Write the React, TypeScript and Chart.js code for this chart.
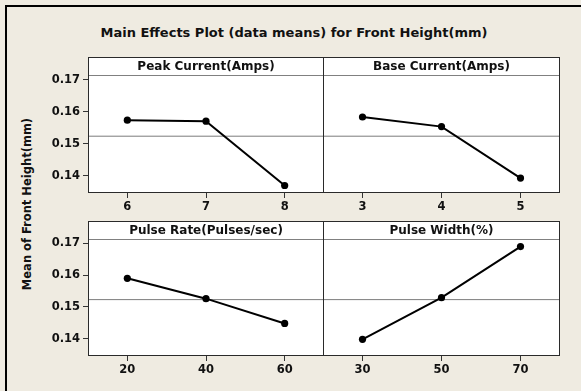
import React, { useEffect, useRef } from 'react';
import { Chart, registerables } from 'chart.js';

Chart.register(...registerables);

// ---- Data ----
const TITLE = 'Main Effects Plot (data means) for Front Height(mm)';
const Y_LABEL = 'Mean of Front Height(mm)';
const FACTORS = ['Peak Current(Amps)', 'Base Current(Amps)', 'Pulse Rate(Pulses/sec)', 'Pulse Width(%)'];

const PEAK_LEVELS = [6, 7, 8];
const PEAK_MEANS = [0.1573, 0.157, 0.1369];
const BASE_LEVELS = [3, 4, 5];
const BASE_MEANS = [0.1583, 0.1553, 0.1392];
const RATE_LEVELS = [20, 40, 60];
const RATE_MEANS = [0.159, 0.1526, 0.1448];
const WIDTH_LEVELS = [30, 50, 70];
const WIDTH_MEANS = [0.1398, 0.1529, 0.169];

const GRAND_MEAN = 0.1523;
const Y_TICKS = [0.14, 0.15, 0.16, 0.17];
const Y_MIN = 0.13455;
const Y_MAX = 0.17705;

// ---- Layout / style ----
const FONT = '"DejaVu Sans", Verdana, sans-serif';
const Y_AXIS_W = 48;
const X_AXIS_H = 26;

type PanelCfg = {
  title: string;
  levels: number[];
  means: number[];
  xMin: number;
  xMax: number;
  left: number;
  top: number;
  width: number;
  height: number;
  showY: boolean;
};

const PANELS: PanelCfg[] = [
  { title: FACTORS[0], levels: PEAK_LEVELS, means: PEAK_MEANS, xMin: 5.5, xMax: 8.5, left: 40, top: 57, width: 284, height: 136 + X_AXIS_H, showY: true },
  { title: FACTORS[1], levels: BASE_LEVELS, means: BASE_MEANS, xMin: 2.5, xMax: 5.5, left: 323, top: 57, width: 237, height: 136 + X_AXIS_H, showY: false },
  { title: FACTORS[2], levels: RATE_LEVELS, means: RATE_MEANS, xMin: 10, xMax: 70, left: 40, top: 221, width: 284, height: 135 + X_AXIS_H, showY: true },
  { title: FACTORS[3], levels: WIDTH_LEVELS, means: WIDTH_MEANS, xMin: 20, xMax: 80, left: 323, top: 221, width: 237, height: 135 + X_AXIS_H, showY: false },
];

function headerPlugin(title: string) {
  return {
    id: 'panelHeader',
    beforeDraw(chart: any) {
      const { ctx, chartArea } = chart;
      const { left, right, top, bottom } = chartArea;
      ctx.save();
      ctx.fillStyle = '#ffffff';
      ctx.fillRect(left, top, right - left, bottom - top);
      ctx.restore();
    },
    afterDraw(chart: any) {
      const { ctx, chartArea } = chart;
      const { left, right, top, bottom } = chartArea;
      ctx.save();
      // header separator
      ctx.strokeStyle = '#808080';
      ctx.lineWidth = 1;
      ctx.beginPath();
      ctx.moveTo(left, top + 18.5);
      ctx.lineTo(right, top + 18.5);
      ctx.stroke();
      // header text
      ctx.fillStyle = '#111';
      ctx.font = `bold 12px ${FONT}`;
      ctx.textAlign = 'center';
      ctx.textBaseline = 'middle';
      ctx.fillText(title, (left + right) / 2, top + 10);
      // panel frame
      ctx.strokeStyle = '#2a2a2a';
      ctx.strokeRect(left + 0.5, top + 0.5, right - left - 1, bottom - top - 1);
      ctx.restore();
    },
  };
}

function Panel({ cfg }: { cfg: PanelCfg }) {
  const ref = useRef<HTMLCanvasElement>(null);
  useEffect(() => {
    const tickFont = { family: FONT, size: 11.5, weight: 'bold' as const };
    const chart = new Chart(ref.current as HTMLCanvasElement, {
      type: 'line',
      data: {
        datasets: [
          {
            data: [
              { x: cfg.xMin, y: GRAND_MEAN },
              { x: cfg.xMax, y: GRAND_MEAN },
            ],
            borderColor: '#7c7c7c',
            borderWidth: 1,
            pointRadius: 0,
            order: 2,
          },
          {
            data: cfg.levels.map((l, i) => ({ x: l, y: cfg.means[i] })),
            borderColor: '#000',
            borderWidth: 2,
            pointRadius: 3.6,
            pointBackgroundColor: '#000',
            pointBorderWidth: 0,
            order: 1,
          },
        ],
      },
      options: {
        animation: false,
        responsive: false,
        devicePixelRatio: 1,
        layout: { padding: 0, autoPadding: false } as any,
        plugins: {
          legend: { display: false },
          tooltip: { enabled: false },
          title: { display: false },
        },
        scales: {
          x: {
            type: 'linear',
            min: cfg.xMin,
            max: cfg.xMax,
            afterBuildTicks: (s: any) => {
              s.ticks = cfg.levels.map((v) => ({ value: v }));
            },
            afterFit: (s: any) => {
              s.height = X_AXIS_H;
              s.paddingLeft = 0;
              s.paddingRight = 0;
            },
            grid: { drawOnChartArea: false, drawTicks: true, tickLength: 5, color: '#333' },
            border: { display: false },
            ticks: {
              font: tickFont,
              color: '#111',
              padding: 2,
              maxRotation: 0,
              autoSkip: false,
              callback: (v: any) => String(v),
            },
          },
          y: {
            type: 'linear',
            display: cfg.showY,
            min: Y_MIN,
            max: Y_MAX,
            afterBuildTicks: (s: any) => {
              s.ticks = Y_TICKS.map((v) => ({ value: v }));
            },
            afterFit: (s: any) => {
              s.width = cfg.showY ? Y_AXIS_W : 0;
              s.paddingTop = 0;
              s.paddingBottom = 0;
            },
            grid: { drawOnChartArea: false, drawTicks: true, tickLength: 5, color: '#333' },
            border: { display: false },
            ticks: {
              font: tickFont,
              color: '#111',
              padding: 3,
              autoSkip: false,
              callback: (v: any) => Number(v).toFixed(2),
            },
          },
        },
      },
      plugins: [headerPlugin(cfg.title)],
    } as any);
    return () => chart.destroy();
  }, [cfg]);
  return (
    <canvas
      ref={ref}
      width={cfg.width}
      height={cfg.height}
      style={{ position: 'absolute', left: cfg.left, top: cfg.top, width: cfg.width, height: cfg.height, display: 'block' }}
    />
  );
}

export default function App() {
  return (
    <div
      style={{
        position: 'fixed',
        left: 0,
        top: 0,
        width: 581,
        height: 391,
        overflow: 'hidden',
        background: '#EFEBE1',
      }}
    >
      <div
        style={{
          position: 'absolute',
          left: 5,
          top: 5,
          width: 620,
          height: 420,
          border: '2px solid #000',
          boxSizing: 'border-box',
        }}
      />
      <div
        style={{
          position: 'absolute',
          left: 0,
          top: 25,
          width: 588,
          textAlign: 'center',
          font: `bold 13px ${FONT}`,
          lineHeight: '16px',
          color: '#111',
          whiteSpace: 'nowrap',
        }}
      >
        {TITLE}
      </div>
      <div
        style={{
          position: 'absolute',
          left: 27.5 - 110,
          top: 204 - 8,
          width: 220,
          height: 16,
          lineHeight: '16px',
          textAlign: 'center',
          font: `bold 11.5px ${FONT}`,
          color: '#111',
          transform: 'rotate(-90deg)',
          whiteSpace: 'nowrap',
        }}
      >
        {Y_LABEL}
      </div>
      {PANELS.map((p) => (
        <Panel key={p.title} cfg={p} />
      ))}
    </div>
  );
}
